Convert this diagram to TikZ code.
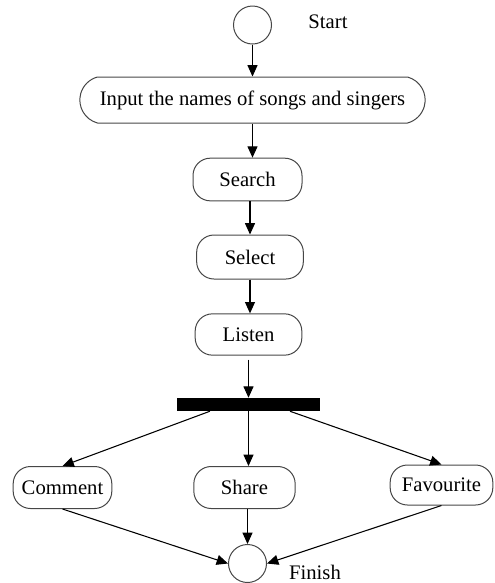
\documentclass[tikz,border=0pt]{standalone}
\usepackage{fontspec}
\setmainfont{Liberation Serif}
\usetikzlibrary{arrows.meta, positioning, calc, shapes.misc}
\definecolor{cEdge}{RGB}{70,70,70}
\tikzset{
	terminal/.style ={circle, draw=cEdge, line width=0.75pt, minimum size=28.5pt, inner sep=0pt},
	activity/.style ={rectangle, rounded corners=13pt, draw=cEdge, line width=0.75pt, minimum height=31.5pt, inner sep=0pt, align=center},
	inputbox/.style ={rounded rectangle, rounded rectangle arc length=150, draw=cEdge, line width=0.75pt, minimum width=259pt, minimum height=34.5pt, inner sep=0pt},
	forkbar/.style  ={rectangle, fill=black, minimum width=107pt, minimum height=9.75pt, inner sep=0pt},
	flowarrow/.style={-{Triangle[length=8.5pt, width=7.5pt]}, line width=0.8pt},
}
\begin{document}
\begin{tikzpicture}[x=0.75pt, y=-0.75pt, every node/.style={font=\fontsize{15.5}{18}\selectfont}]
	\useasboundingbox (0,0) rectangle (494,583);
	% start and input
	\node[terminal] (start) at (252.5,25) {};
	\node (startlbl) at (328,22) {Start};
	\node[inputbox] (inp) at (252.5,100) {Input the names of songs and singers};
	% main sequence
	\node[activity, minimum width=81.75pt, minimum height=32pt] (search) at (247.5,179.5) {Search};
	\node[activity, minimum width=80pt, minimum height=33pt] (select) at (250,257) {Select};
	\node[activity, minimum width=80pt, minimum height=31pt] (listen) at (248.5,334.5) {Listen};
	\node[forkbar] (bar) at (248.5,404.5) {};
	% parallel branches
	\node[activity, minimum width=74pt] (comment) at (62.5,487.5) {Comment};
	\node[activity, minimum width=76pt] (share) at (244.5,487.5) {Share};
	\node[activity, minimum width=77pt, minimum height=30pt] (fav) at (441.5,485) {Favourite};
	\node[terminal] (finish) at (247.5,563.5) {};
	\node (finishlbl) at (315,572) {Finish};
	% connectors
	\draw[flowarrow] (start.south) -- (start.south |- inp.north);
	\draw[flowarrow] (inp.south) -- (inp.south |- search.north);
	\draw[flowarrow] (select.north |- search.south) -- (select.north);
	\draw[flowarrow] (select.south) -- (select.south |- listen.north);
	\draw[flowarrow] ([yshift=-3pt]listen.south) -- (listen.south |- bar.north);
	\draw[flowarrow] ($(bar.south west)!0.23!(bar.south east)$) -- (comment.north);
	\draw[flowarrow] (bar.south) -- (bar.south |- share.north);
	\draw[flowarrow] ($(bar.south west)!0.79!(bar.south east)$) -- (fav.north);
	\draw[flowarrow] (comment.south) -- (finish.west);
	\draw[flowarrow] (finish.north |- share.south) -- (finish.north);
	\draw[flowarrow] (fav.south) -- (finish.east);
\end{tikzpicture}
\end{document}
